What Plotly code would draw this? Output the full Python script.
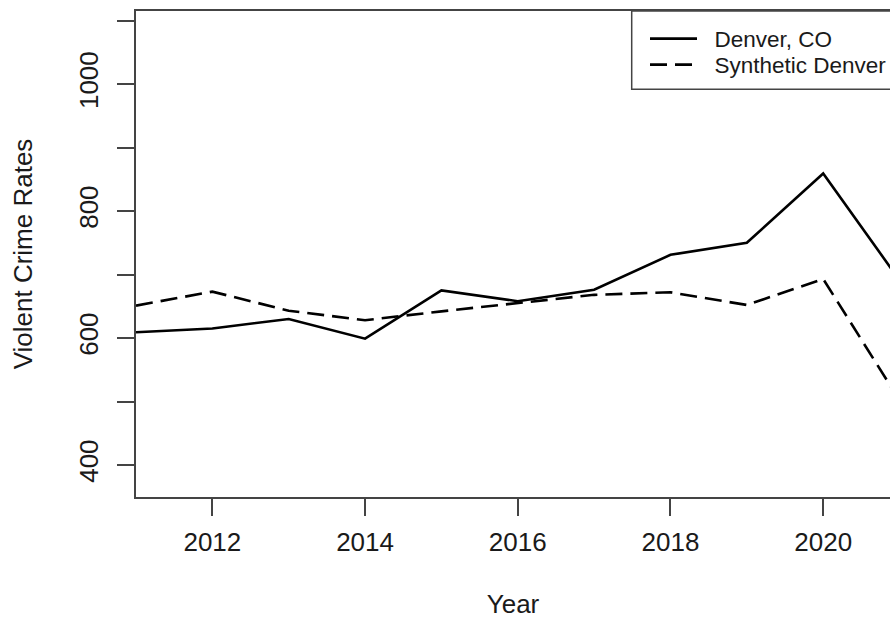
import plotly.graph_objects as go

years = [2011, 2012, 2013, 2014, 2015, 2016, 2017, 2018, 2019, 2020, 2021]
denver = [609, 615, 630, 599, 675, 658, 676, 731, 750, 859, 691]
synthetic = [651, 673, 643, 628, 642, 655, 668, 672, 652, 693, 502]

series_names = ["Denver, CO", "Synthetic Denver"]
y_tick_vals = [400, 500, 600, 700, 800, 900, 1000, 1100]
y_tick_text = ["400", "", "600", "", "800", "", "1000", ""]
x_tick_vals = [2012, 2014, 2016, 2018, 2020]

FONT = "Liberation Sans, Arial, Helvetica, sans-serif"
AXC = "#444444"
TXT = "#1a1a1a"
PAD = "\u00a0\u00a0"

fig = go.Figure()
fig.add_trace(go.Scatter(x=years, y=denver, mode="lines", name=PAD + series_names[0],
                         legend="legend",
                         line=dict(color="black", width=2.6)))
fig.add_trace(go.Scatter(x=years, y=synthetic, mode="lines", name=PAD + series_names[1],
                         legend="legend2",
                         line=dict(color="black", width=2.6, dash="17px,8px")))

leg_common = dict(xanchor="left", yanchor="middle", bgcolor="rgba(0,0,0,0)", borderwidth=0,
                  font=dict(size=22.5, color=TXT), itemwidth=47)

fig.update_layout(
    width=890, height=619,
    margin=dict(l=136, r=0, t=11, b=122, autoexpand=False),
    paper_bgcolor="white", plot_bgcolor="white",
    font=dict(family=FONT, color=TXT, size=26),
    showlegend=True,
    legend=dict(x=(645 - 136) / 754, y=(497 - 39) / 486, **leg_common),
    legend2=dict(x=(645 - 136) / 754, y=(497 - 65) / 486, **leg_common),
    xaxis=dict(range=[2011, 2020.875], tickmode="array", tickvals=x_tick_vals,
               ticks="outside", ticklen=17, tickwidth=1.5, tickcolor=AXC,
               showline=True, linecolor=AXC, linewidth=2, mirror=True,
               showgrid=False, zeroline=False, ticklabelstandoff=4,
               title=dict(text="Year", standoff=47, font=dict(size=26)),
               tickfont=dict(size=26)),
    yaxis=dict(range=[349.6, 1115], tickmode="array", tickvals=y_tick_vals, ticktext=y_tick_text,
               ticks="outside", ticklen=17, tickwidth=1.5, tickcolor=AXC,
               showline=True, linecolor=AXC, linewidth=2, mirror=False,
               showgrid=False, zeroline=False, tickangle=-90, ticklabelstandoff=9,
               title=dict(text="Violent Crime Rates", standoff=33, font=dict(size=26)),
               tickfont=dict(size=26)),
    shapes=[dict(type="rect", xref="paper", yref="paper",
                 x0=(631.7 - 136) / 754, x1=1.05, y0=(497 - 89.3) / 486, y1=1.0,
                 line=dict(color=AXC, width=1.5), fillcolor="rgba(0,0,0,0)", layer="above")],
)

fig.write_html(
    "out.html",
    config={"displayModeBar": False},
    post_script="document.documentElement.style.margin='0';document.documentElement.style.overflow='hidden';"
                "document.body.style.margin='0';document.body.style.overflow='hidden';",
)
